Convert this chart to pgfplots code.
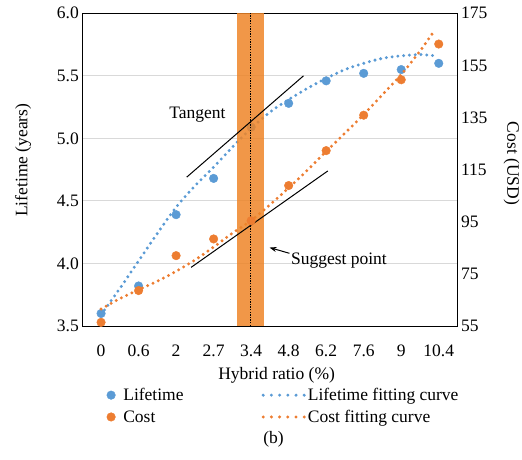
\documentclass[border=0pt]{standalone}
\usepackage{fontspec}
\setmainfont{Liberation Serif}
\usepackage{pgfplots}
\pgfplotsset{compat=1.18}
\usetikzlibrary{arrows.meta}

\definecolor{lifeblue}{RGB}{91,155,213}
\definecolor{costorange}{RGB}{237,125,49}
\definecolor{bandorange}{RGB}{238,133,40}
\definecolor{gridgray}{RGB}{217,217,217}

\newcommand{\chartfont}{\fontsize{17.5}{20}\selectfont}

\pgfplotsset{
  frame/.style={
    width=375.2pt, height=312.7pt, scale only axis,
    at={(0pt,0pt)}, anchor=south west,
    xmin=-0.5, xmax=9.5,
    font=\chartfont,
    /pgf/number format/assume math mode=true,
    major tick length=0pt,
  },
  fitcurve/.style={line width=3.3pt, line cap=round, dash pattern=on 0pt off 5.8pt},
  datamark/.style={only marks, mark=*, mark size=4.3pt},
  markimage/.style={legend image code/.code={\path (0pt,0pt) (15pt,0pt); \draw[##1] plot coordinates {(5pt,0pt)};}},
  curveimage/.style={legend image code/.code={\draw[##1, dash pattern=on 0pt off 8.2pt] (0pt,0pt) -- (41pt,0pt);}},
}

\begin{document}
\begin{tikzpicture}
\useasboundingbox (-82.3pt,-134pt) rectangle (439.7pt,326pt);

% Lifetime, left axis
\begin{axis}[frame,
  ymin=3.5, ymax=6, ytick={3.5,4,4.5,5,5.5,6},
  yticklabel style={/pgf/number format/fixed, /pgf/number format/fixed zerofill, /pgf/number format/precision=1},
  ytick pos=left, xtick pos=lower,
  ymajorgrids, grid style={gridgray, line width=0.9pt},
  xtick={0,...,9}, xticklabels={0,0.6,2,2.7,3.4,4.8,6.2,7.6,9,10.4},
  xticklabel style={yshift=-15pt},
  xlabel={Hybrid ratio (\%)},
  xlabel style={at={(axis description cs:0.518,-0.157)}, anchor=center},
  ylabel={Lifetime (years)},
  ylabel style={at={(axis description cs:-0.158,0.53)}, anchor=center},
  axis line style={black, line width=0.9pt},
]
\addplot[datamark, lifeblue] coordinates {
  (0,3.60) (1,3.82) (2,4.39) (3,4.68) (4,5.09) (5,5.28) (6,5.46) (7,5.52) (8,5.55) (9,5.60)};
\addplot[fitcurve, lifeblue, smooth] coordinates {
  (0,3.59) (0.5,3.80) (1,4.02) (1.5,4.24) (2,4.45) (2.5,4.62) (3,4.77) (3.5,4.93)
  (4,5.08) (4.5,5.21) (5,5.31) (5.5,5.40) (6,5.48) (6.5,5.55) (7,5.60) (7.5,5.64)
  (8,5.66) (8.5,5.67) (8.93,5.66)};
\end{axis}

% Cost, right axis
\begin{axis}[frame,
  axis y line*=right, axis x line=none,
  ymin=55, ymax=175, ytick={55,75,...,175},
  ylabel={Cost (USD)},
  ylabel style={at={(axis description cs:1.1444,0.52)}, anchor=center, rotate=180},
  axis line style={black, line width=0.9pt},
  legend columns=2,
  legend cell align=left,
  legend style={draw=none, fill=none, inner sep=0pt,
    at={(axis description cs:0.0624,-0.192)}, anchor=north west,
    font=\chartfont, row sep=4pt,
    /tikz/column 2/.style={column sep=76pt}},
]
\addlegendimage{datamark, lifeblue, markimage}
\addlegendentry{Lifetime}
\addlegendimage{fitcurve, lifeblue, curveimage}
\addlegendentry{Lifetime fitting curve}
\addplot[datamark, costorange, markimage] coordinates {
  (0,56.4) (1,68.6) (2,82.0) (3,88.4) (4,95.4) (5,108.9) (6,122.3) (7,135.9) (8,149.5) (9,163.2)};
\addlegendentry{Cost}
\addplot[fitcurve, costorange, smooth, curveimage] coordinates {
  (0,61.5) (0.5,65.5) (1,68.9) (1.5,72.2) (2,76.0) (2.5,80.3) (3,85.3) (3.5,90.6)
  (4,95.5) (4.5,101.5) (5,108.0) (5.5,114.8) (6,122.0) (6.5,129.0) (7,136.2)
  (7.5,143.8) (8,151.5) (8.5,160.5) (8.9,168.7)};
\addlegendentry{Cost fitting curve}
% suggested range
\addplot[forget plot, draw=none, fill=bandorange, fill opacity=0.85]
  coordinates {(3.63,55) (3.63,175) (4.35,175) (4.35,55)} -- cycle;
\addplot[forget plot, black, line width=0.8pt, dash pattern=on 1.3pt off 1.3pt]
  coordinates {(3.99,55) (3.99,175)};
% tangent of the cost curve
\addplot[forget plot, black, line width=1pt] coordinates {(2.4,77.5) (6.043,114.5)};
\node[font=\chartfont] at (axis cs:6.34,80.0) {Suggest point};
\draw[-{Stealth[length=7pt,width=5pt]}, line width=1pt] (axis cs:5.02,82.9) -- (axis cs:4.49,85.1);
\end{axis}

% tangent of the lifetime curve
\begin{axis}[frame, hide axis, ymin=3.5, ymax=6]
\addplot[black, line width=1pt] coordinates {(2.283,4.69) (5.395,5.50)};
\node[font=\chartfont] at (axis cs:2.57,5.19) {Tangent};
\end{axis}

\node[font=\chartfont] at (191.2pt,-113pt) {(b)};
\end{tikzpicture}
\end{document}
